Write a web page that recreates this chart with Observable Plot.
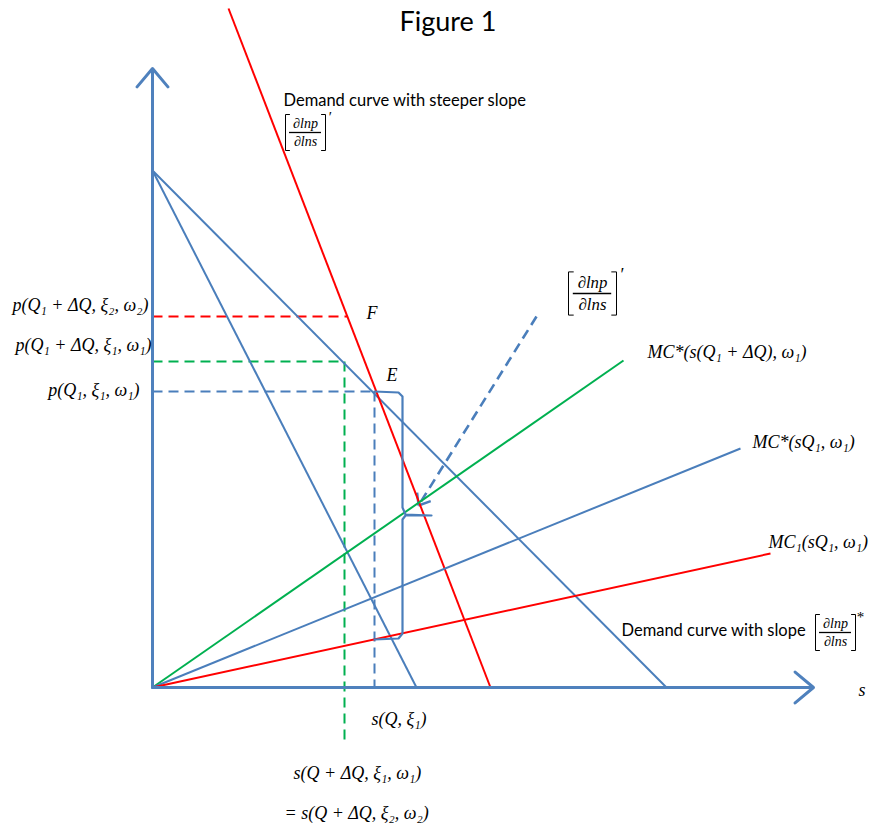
<!DOCTYPE html>
<html><head><meta charset="utf-8">
<script src="https://cdn.jsdelivr.net/npm/d3@7"></script>
<script src="https://cdn.jsdelivr.net/npm/@observablehq/plot@0.6"></script>
<style>body{margin:0;background:#fff}</style>
</head><body><div id="chart"></div>
<script>
// Diagram units: s to the right, p upward, origin at the corner of the axes.
// Axes (arrows)
const axisX1 = [0, 0];
const axisY1 = [0, 0];
const axisX2 = [661, 0];
const axisY2 = [0, 619];

// Solid curves
const curveKey = ["demand", "demandFlat", "demandSteep", "mcShift", "mcStar", "mc1"];
const curveX1 = [0, 0, 76, 0, 0, 0];
const curveY1 = [517, 517, 679, 0, 0, 0];
const curveX2 = [264, 514, 338, 471, 588, 618];
const curveY2 = [0, 0, 0, 327, 239, 134];

// Dashed guide lines
const guideKey = ["pF", "pShift", "pE", "sShift", "sE", "slope"];
const guideX1 = [0, 0, 0, 192, 222, 384];
const guideY1 = [371, 326, 296, 326, 296, 371];
const guideX2 = [195, 192, 222, 192, 222, 266];
const guideY2 = [371, 326, 296, -53, 0, 182];

// Curly brace beside E
const braceX = [222, 246, 250, 250, 253, 279, 253, 250, 250, 246, 222];
const braceY = [296, 295, 291, 180, 173, 172, 172, 168, 54, 49, 48];

// Math labels placed to the left of the price axis (right-aligned)
const leftText = ["p(Q₁ + ΔQ, ξ₂, ω₂)", "p(Q₁ + ΔQ, ξ₁, ω₁)", "p(Q₁, ξ₁, ω₁)"];
const leftX = [-4, -1, -13];
const leftY = [382, 342, 297];

// Math labels (left-aligned)
const labelText = [
  "MC*(s(Q₁ + ΔQ), ω₁)", "MC*(sQ₁, ω₁)", "MC₁(sQ₁, ω₁)",
  "s", "s(Q, ξ₁)", "s(Q + ΔQ, ξ₁, ω₁)", "= s(Q + ΔQ, ξ₂, ω₂)", "E", "F"
];
const labelX = [495, 600, 616, 706, 219, 141, 132, 234, 214];
const labelY = [335, 245, 145, -3, -32, -86, -126, 312, 374];

const noteText = ["Demand curve with steeper slope", "Demand curve with slope"];
const noteX = [131, 469];
const noteY = [587, 57];

// Fraction labels [∂lnp/∂lns]
const fracX = [153, 440, 683];
const fracY = [555, 394, 55];
const fracSize = [1, 1.2, 1];
const fracMark = ["′", "′", "*"];

const titleText = "Figure 1";

const BLUE = "#4A7EBB", RED = "#FF0000", GREEN = "#00B050";
const curveColor = {demand: BLUE, demandFlat: BLUE, demandSteep: RED, mcShift: GREEN, mcStar: BLUE, mc1: RED};
const guideColor = {pF: RED, pShift: GREEN, pE: BLUE, sShift: GREEN, sE: BLUE, slope: BLUE};

const curves = curveKey.map((k, i) => ({k, x1: curveX1[i], y1: curveY1[i], x2: curveX2[i], y2: curveY2[i]}));
const guides = guideKey.map((k, i) => ({k, x1: guideX1[i], y1: guideY1[i], x2: guideX2[i], y2: guideY2[i]}));
const axes = axisX1.map((v, i) => ({x1: v, y1: axisY1[i], x2: axisX2[i], y2: axisY2[i]}));
const brace = braceX.map((x, i) => ({x, y: braceY[i]}));
const leftLabels = leftText.map((t, i) => ({t, x: leftX[i], y: leftY[i]}));
const labels = labelText.map((t, i) => ({t, x: labelX[i], y: labelY[i]}));
const notes = noteText.map((t, i) => ({t, x: noteX[i], y: noteY[i]}));
const fracs = fracX.map((x, i) => ({x, y: fracY[i], k: fracSize[i], m: fracMark[i]}));

// open arrow head at the tip of the dashed slope line (scale is 1 unit = 1 px on both axes)
const slope = guides.find(g => g.k === "slope");
const len = Math.hypot(slope.x1 - slope.x2, slope.y1 - slope.y2);
const ux = (slope.x1 - slope.x2) / len, uy = (slope.y1 - slope.y2) / len;
const wing = 13, ang = 38 * Math.PI / 180;
const wings = [1, -1].map(s => ({
  x1: slope.x2, y1: slope.y2,
  x2: slope.x2 + wing * (ux * Math.cos(s * ang) - uy * Math.sin(s * ang)),
  y2: slope.y2 + wing * (ux * Math.sin(s * ang) + uy * Math.cos(s * ang))
}));

const MATH = "'Liberation Serif', 'DejaVu Serif', serif";
const SANS = "Lato, 'Open Sans', sans-serif";

function fractionMarks(f) {
  const k = f.k;
  const w = 20 * k, h = 18 * k, t = 4 * k;
  const left = [{x: f.x - w + t, y: f.y + h}, {x: f.x - w, y: f.y + h}, {x: f.x - w, y: f.y - h}, {x: f.x - w + t, y: f.y - h}];
  const right = [{x: f.x + w - t, y: f.y + h}, {x: f.x + w, y: f.y + h}, {x: f.x + w, y: f.y - h}, {x: f.x + w - t, y: f.y - h}];
  const common = {x: "x", y: "y", fill: "#000", fontFamily: MATH, fontStyle: "italic", fontSize: 14 * k};
  return [
    Plot.text([f], {...common, text: () => "∂lnp", dy: -9 * k}),
    Plot.text([f], {...common, text: () => "∂lns", dy: 9 * k}),
    Plot.ruleY([f], {y: "y", x1: d => d.x - 16 * k, x2: d => d.x + 16 * k, stroke: "#000", strokeWidth: 1.3}),
    Plot.line(left, {x: "x", y: "y", stroke: "#000", strokeWidth: 1}),
    Plot.line(right, {x: "x", y: "y", stroke: "#000", strokeWidth: 1}),
    Plot.text([f], {...common, text: "m", fontStyle: "normal", fontSize: 15 * k, dx: 25 * k, dy: -15 * k})
  ];
}

const mathText = {x: "x", y: "y", text: "t", fontFamily: MATH, fontStyle: "italic", fontSize: 18, fill: "#000", lineAnchor: "middle"};

const chart = Plot.plot({
  width: 871,
  height: 834,
  margin: 0,
  x: {domain: [-152, 719], axis: null},
  y: {domain: [-147, 687], axis: null},
  style: {background: "#fff"},
  marks: [
    Plot.text([titleText], {frameAnchor: "top", dy: 22, dx: 12, text: d => d, fontSize: 27, fontFamily: SANS, fill: "#000", lineAnchor: "middle"}),
    Plot.link(guides, {x1: "x1", y1: "y1", x2: "x2", y2: "y2", stroke: d => guideColor[d.k], strokeWidth: d => d.k === "slope" ? 2.6 : 2, strokeDasharray: "10,6"}),
    Plot.link(wings, {x1: "x1", y1: "y1", x2: "x2", y2: "y2", stroke: BLUE, strokeWidth: 2.4}),
    Plot.link(curves, {x1: "x1", y1: "y1", x2: "x2", y2: "y2", stroke: d => curveColor[d.k], strokeWidth: 2}),
    Plot.line(brace, {x: "x", y: "y", stroke: BLUE, strokeWidth: 2.2}),
    Plot.arrow(axes, {x1: "x1", y1: "y1", x2: "x2", y2: "y2", stroke: "#4F81BD", strokeWidth: 3, headLength: 12, headAngle: 80}),
    Plot.text(leftLabels, {...mathText, textAnchor: "end"}),
    Plot.text(labels, {...mathText, textAnchor: "start"}),
    Plot.text(notes, {x: "x", y: "y", text: "t", textAnchor: "start", fontFamily: SANS, fontSize: 16.5, fill: "#000"}),
    ...fracs.flatMap(fractionMarks)
  ]
});
document.getElementById("chart").append(chart);
</script>
</body></html>
